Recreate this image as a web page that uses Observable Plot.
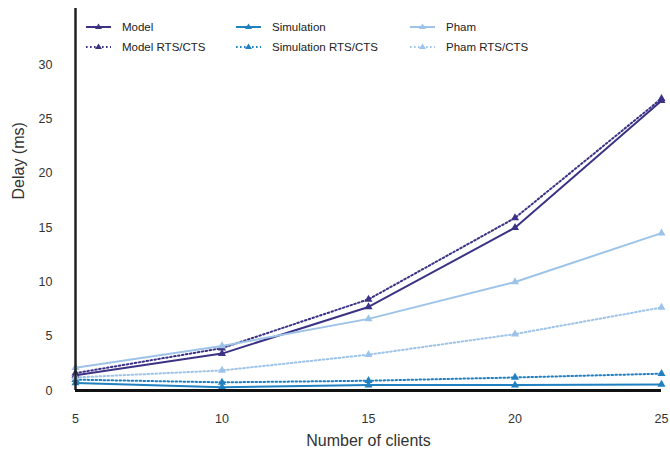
<!DOCTYPE html>
<html>
<head>
<meta charset="utf-8">
<script src="https://cdn.jsdelivr.net/npm/d3@7"></script>
<script src="https://cdn.jsdelivr.net/npm/@observablehq/plot@0.6"></script>
<style>
  html, body { margin: 0; padding: 0; background: #fff; }
  #wrap { position: relative; width: 670px; height: 457px; font-family: "Liberation Sans", Arial, sans-serif; }
  #legend { position: absolute; left: 86px; top: 19px; display: grid;
            grid-template-columns: 150px 174px 140px; row-gap: 4px; font-size: 11.5px; color: #222; }
  .item { display: flex; align-items: center; height: 16px; }
  .item svg { margin-right: 11px; }
</style>
</head>
<body>
<div id="wrap"></div>
<script>
// Number of clients on the x axis
const clients = [5, 10, 15, 20, 25];

// Mean delay (ms) for each configuration
const model          = [1.4, 3.4, 7.7, 15.0, 26.7];
const modelRts       = [1.6, 3.9, 8.4, 15.9, 26.9];
const simulation     = [0.7, 0.3, 0.5, 0.5, 0.55];
const simulationRts  = [1.0, 0.75, 0.9, 1.2, 1.55];
const pham           = [2.1, 4.1, 6.6, 10.0, 14.5];
const phamRts        = [1.2, 1.85, 3.3, 5.2, 7.65];

const yTicks = [0, 5, 10, 15, 20, 25, 30];
const xTitle = "Number of clients";
const yTitle = "Delay (ms)";

const dotted = "1.6,2.4";
const series = [
  {name: "Model",              values: model,         color: "#3b3285", dash: null},
  {name: "Model RTS/CTS",      values: modelRts,      color: "#3b3285", dash: dotted},
  {name: "Simulation",         values: simulation,    color: "#2080c0", dash: null},
  {name: "Simulation RTS/CTS", values: simulationRts, color: "#2080c0", dash: dotted},
  {name: "Pham",               values: pham,          color: "#9dc3e8", dash: null},
  {name: "Pham RTS/CTS",       values: phamRts,       color: "#9dc3e8", dash: dotted}
];

const rows = series.flatMap(s => clients.map((c, i) => ({series: s.name, x: c, y: s.values[i]})));

const marks = [];
for (const s of series) {
  const data = rows.filter(r => r.series === s.name);
  marks.push(Plot.line(data, {x: "x", y: "y", stroke: s.color, strokeWidth: 2,
    strokeDasharray: s.dash ?? undefined}));
  marks.push(Plot.dot(data, {x: "x", y: "y", symbol: "triangle", fill: s.color, r: 3, stroke: "none"}));
}

const chart = Plot.plot({
  width: 670,
  height: 457,
  marginLeft: 75,
  marginRight: 9,
  marginTop: 8,
  marginBottom: 67,
  style: {fontFamily: "Liberation Sans, Arial, sans-serif", color: "#333", background: "#fff"},
  x: {domain: [5, 25]},
  y: {domain: [0, 35.2]},
  marks: [
    Plot.axisX({ticks: clients, tickSize: 0, tickPadding: 24, fontSize: 12.5, label: null}),
    Plot.axisY({ticks: yTicks, tickSize: 0, tickPadding: 23, fontSize: 12.5, label: null}),
    // axis titles, larger than the tick labels
    Plot.text([xTitle], {text: d => d, frameAnchor: "bottom", dy: 55, fontSize: 16, fill: "#333"}),
    Plot.text([yTitle], {text: d => d, frameAnchor: "left", rotate: -90, dx: -57, fontSize: 16, fill: "#333"}),
    ...marks,
    Plot.ruleX([5], {y1: 0, y2: 35.2, stroke: "#222", strokeWidth: 2.5}),
    Plot.ruleY([0], {x1: 5, x2: 25, stroke: "#111", strokeWidth: 3})
  ]
});

const wrap = document.getElementById("wrap");
wrap.appendChild(chart);

// Legend: three columns, solid series on the first row, RTS/CTS on the second
const legend = document.createElement("div");
legend.id = "legend";
const order = [0, 2, 4, 1, 3, 5];
for (const k of order) {
  const s = series[k];
  const item = document.createElement("div");
  item.className = "item";
  const ns = "http://www.w3.org/2000/svg";
  const svg = document.createElementNS(ns, "svg");
  svg.setAttribute("width", 25); svg.setAttribute("height", 10);
  const ln = document.createElementNS(ns, "line");
  ln.setAttribute("x1", 0); ln.setAttribute("x2", 25); ln.setAttribute("y1", 5); ln.setAttribute("y2", 5);
  ln.setAttribute("stroke", s.color); ln.setAttribute("stroke-width", 2);
  if (s.dash) ln.setAttribute("stroke-dasharray", s.dash);
  const tri = document.createElementNS(ns, "path");
  tri.setAttribute("d", "M12.5,1.5 L16,7 L9,7 Z");
  tri.setAttribute("fill", s.color);
  svg.append(ln, tri);
  const label = document.createElement("span");
  label.textContent = s.name;
  item.append(svg, label);
  legend.appendChild(item);
}
wrap.appendChild(legend);
</script>
</body>
</html>
